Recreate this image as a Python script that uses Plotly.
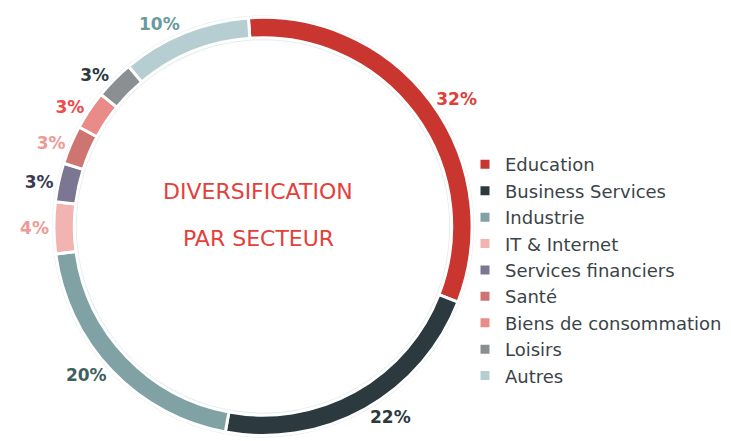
import plotly.graph_objects as go

labels = ["Education", "Business Services", "Industrie", "IT & Internet",
          "Services financiers", "Santé", "Biens de consommation", "Loisirs", "Autres"]
values = [32, 22, 20, 4, 3, 3, 3, 3, 10]
slice_colors = ["#c9352f", "#2c3a40", "#80a2a4", "#f2b4b1", "#7b7691",
                "#cf7571", "#e98c89", "#8b8f91", "#b6ced1"]
label_colors = ["#e0403a", "#2c3a40", "#3f5f60", "#ee9a95", "#3a3a50",
                "#f09a95", "#ef4a4e", "#2c3a40", "#6a9a9c"]
center_lines = ["DIVERSIFICATION", "PAR SECTEUR"]

W, H = 731, 441
cx, cy = 263, 228  # pixel centre (from top)
r_bg, r_main = 212.5, 210.5

def dom(r):
    yb = H - cy
    return dict(x=[(cx - r) / W, (cx + r) / W], y=[max(0, (yb - r) / H), (yb + r) / H])

fig = go.Figure()
fig.add_trace(go.Pie(
    values=[1], labels=["bg"], domain=dom(r_bg), hole=187.5 / r_bg,
    marker=dict(colors=["#e5eeed"], line=dict(width=0)),
    textinfo="none", hoverinfo="skip", showlegend=False, sort=False,
))
fig.add_trace(go.Pie(
    values=values, labels=labels, domain=dom(r_main), hole=190 / r_main,
    sort=False, direction="clockwise", rotation=-4,
    marker=dict(colors=slice_colors, line=dict(color="#ffffff", width=3)),
    texttemplate="%{value}%", textposition="outside",
    outsidetextfont=dict(family="DejaVu Sans", size=17, color=label_colors, weight="bold"),
    showlegend=True,
))
for i, (t, yy) in enumerate(zip(center_lines, [193, 240])):
    fig.add_annotation(text=t, x=258 / W, y=(H - yy) / H, xref="paper", yref="paper",
                       showarrow=False,
                       font=dict(family="DejaVu Sans", size=22, color="#e3403a"))

fig.update_layout(
    width=W, height=H, margin=dict(l=0, r=0, t=0, b=0),
    paper_bgcolor="white", plot_bgcolor="white",
    legend=dict(x=465 / W, xanchor="left", y=(H - 272) / H, yanchor="middle",
                font=dict(family="DejaVu Sans", size=18, color="#3a4448"),
                bgcolor="rgba(0,0,0,0)"),
)
fig.write_html("out.html", config={"displayModeBar": False},
               post_script="document.body.style.margin='0';")
